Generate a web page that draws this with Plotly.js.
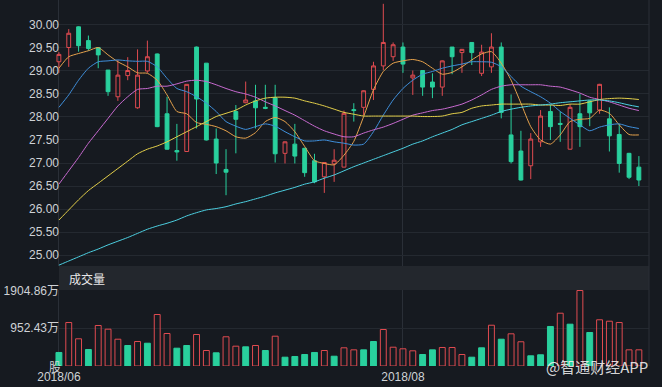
<!DOCTYPE html>
<html>
<head>
<meta charset="utf-8">
<script src="https://cdn.plot.ly/plotly-3.0.1.min.js"></script>
<style>html,body{margin:0;padding:0;background:#161a20;}#chart{width:662px;height:387px;}</style>
</head>
<body>
<div id="chart"></div>
<script>
// ---- Data ----
const open  = [29.20,29.51,29.96,29.66,29.51,29.02,28.44,28.90,28.20,29.00,
               29.37,28.07,27.27,27.25,29.52,29.17,27.52,26.86,28.12,28.31,
               28.35,28.21,28.42,27.21,27.41,27.32,27.05,26.70,26.98,26.91,
               28.16,28.21,28.60,29.11,29.31,29.52,28.85,29.01,28.76,28.65,
               29.52,29.40,29.62,28.95,29.09,29.52,27.61,27.26,26.94,27.46,
               28.12,27.86,27.30,28.07,28.35,28.15,27.96,27.62,27.21,26.91];
const high  = [29.41,29.91,29.97,29.77,29.52,29.02,29.24,29.30,29.47,29.66,
               29.38,28.44,27.85,28.71,29.53,29.17,27.75,27.30,28.26,28.77,
               28.70,28.70,28.70,27.47,27.85,27.33,27.20,27.01,27.30,28.14,
               28.30,28.58,29.20,30.46,29.62,29.62,29.01,29.01,28.95,29.23,
               29.52,29.48,29.62,29.57,29.82,29.62,28.49,27.70,27.65,28.15,
               28.26,28.12,28.28,28.50,28.36,28.72,28.21,27.85,27.22,27.15];
const low   = [28.96,29.09,29.42,29.44,29.06,28.46,28.35,28.80,28.18,28.96,
               27.78,27.29,27.05,27.25,27.75,27.49,26.76,26.30,27.21,28.30,
               27.75,28.17,27.01,26.99,26.99,26.70,26.56,26.35,26.59,26.91,
               27.90,28.04,28.37,29.02,29.22,28.96,28.48,28.46,28.41,28.46,
               28.93,28.96,29.13,28.89,28.96,27.97,26.99,26.62,26.65,27.35,
               27.50,27.46,27.29,27.35,27.80,28.07,27.25,26.79,26.65,26.50];
const close = [29.36,29.82,29.55,29.49,29.35,28.55,28.91,29.01,28.91,29.31,
               27.79,27.30,27.24,28.71,28.39,27.50,27.00,26.80,27.95,28.37,
               28.20,28.19,27.20,27.46,27.15,26.79,26.59,27.01,27.06,28.08,
               28.14,28.57,29.11,29.62,29.57,29.15,28.91,28.65,28.65,29.22,
               29.31,29.47,29.40,29.41,29.52,28.10,27.03,26.63,27.52,28.02,
               27.79,27.84,28.21,27.79,28.09,28.71,27.59,26.99,26.69,26.63];

const ma5  = [29.06,29.31,29.38,29.44,29.51,29.35,29.20,29.09,28.96,28.95,
              28.80,28.48,28.12,28.07,27.88,27.84,27.79,27.70,27.57,27.54,
              27.66,27.90,27.99,27.90,27.68,27.36,27.05,26.99,26.96,27.17,
              27.47,28.01,28.59,28.99,29.17,29.22,29.25,29.20,29.06,28.93,
              28.97,29.09,29.24,29.37,29.42,29.17,28.80,28.30,27.79,27.50,
              27.41,27.61,27.90,27.95,27.97,28.15,28.08,27.83,27.62,27.61];
const ma10 = [28.21,28.48,28.80,29.06,29.20,29.22,29.24,29.22,29.21,29.21,
              29.09,28.84,28.62,28.55,28.44,28.30,28.12,27.90,27.80,27.73,
              27.79,27.85,27.80,27.68,27.57,27.48,27.48,27.50,27.46,27.43,
              27.39,27.41,27.68,28.04,28.37,28.62,28.80,28.93,28.99,29.06,
              29.11,29.15,29.20,29.20,29.19,29.09,28.88,28.67,28.55,28.44,
              28.30,28.12,27.97,27.83,27.70,27.78,27.83,27.85,27.79,27.75];
const ma20 = [26.54,26.83,27.12,27.43,27.70,27.97,28.24,28.44,28.60,28.62,
              28.67,28.67,28.72,28.78,28.80,28.77,28.70,28.62,28.55,28.50,
              28.43,28.33,28.24,28.14,28.04,27.92,27.80,27.70,27.63,27.57,
              27.57,27.65,27.72,27.78,27.86,27.95,28.04,28.09,28.14,28.17,
              28.22,28.28,28.37,28.48,28.60,28.67,28.70,28.70,28.70,28.70,
              28.67,28.65,28.59,28.52,28.43,28.38,28.33,28.26,28.19,28.14];
const ma30 = [25.76,25.98,26.20,26.40,26.56,26.72,26.88,27.04,27.20,27.30,
              27.37,27.46,27.57,27.68,27.79,27.90,28.01,28.08,28.15,28.26,
              28.35,28.41,28.43,28.43,28.41,28.35,28.30,28.24,28.17,28.10,
              28.06,28.02,28.02,28.02,28.02,28.02,28.02,28.01,28.01,28.02,
              28.07,28.10,28.19,28.24,28.26,28.28,28.28,28.28,28.28,28.26,
              28.26,28.25,28.28,28.28,28.33,28.38,28.40,28.41,28.40,28.38];
const ma60 = [24.78,24.87,24.96,25.05,25.13,25.22,25.30,25.38,25.47,25.56,
              25.63,25.69,25.76,25.85,25.92,25.98,26.01,26.05,26.11,26.16,
              26.22,26.28,26.35,26.41,26.47,26.54,26.59,26.67,26.74,26.83,
              26.92,27.00,27.08,27.16,27.24,27.32,27.41,27.48,27.57,27.65,
              27.73,27.83,27.90,27.97,28.04,28.12,28.17,28.21,28.24,28.26,
              28.28,28.31,28.33,28.35,28.37,28.37,28.35,28.31,28.26,28.22];

// volume in 万股
const volume = [341,1097,686,416,1022,929,676,517,618,575,
                1299,820,449,517,795,391,333,737,500,484,
                517,391,752,222,240,290,341,391,247,459,
                408,408,618,921,474,434,383,290,408,467,
                467,290,222,459,1029,676,812,611,257,283,
                997,1332,1055,1904.86,845,1166,1130,1097,408,408];
// 1 = red hollow bar, 0 = green filled bar (as drawn)
const volumeUp = [0,1,1,0,1,1,1,0,1,0,
                  1,1,0,0,1,1,0,1,1,0,
                  1,0,1,0,0,0,0,1,0,1,
                  1,0,0,1,1,1,1,0,0,1,
                  1,1,0,0,1,0,1,1,0,0,
                  0,1,0,1,0,1,1,1,1,1];

const priceTicks = [25,25.5,26,26.5,27,27.5,28,28.5,29,29.5,30];
const volTicks = [952.43, 1904.86];
const volTickText = ['952.43万', '1904.86万'];
const dateTickIdx = [0, 35];
const dateTickText = ['2018/06', '2018/08'];

// ---- Styling ----
const BG = '#161a20';
const RED = '#e04b50';
const GREEN = '#29d09d';
const GRID = '#242930';
const TXT = '#cfd2d6';
const FONT = "Arial, 'Liberation Sans', 'Noto Sans CJK SC', sans-serif";
const idx = open.map((_, i) => i);

const traces = [
  {type:'candlestick', x: idx, open, high, low, close, xaxis:'x', yaxis:'y',
   increasing:{line:{color:RED, width:1}, fillcolor:'rgba(0,0,0,0)'},
   decreasing:{line:{color:GREEN, width:1}, fillcolor:GREEN},
   whiskerwidth:0, hoverinfo:'skip'},
];
const maDefs = [[ma5,'#e6a24c'],[ma10,'#3f8fdb'],[ma20,'#c86ad0'],[ma30,'#e3cf4a'],[ma60,'#4ccfe0']];
maDefs.forEach(([arr, col]) => traces.push({
  type:'scatter', mode:'lines', x: idx, y: arr, xaxis:'x', yaxis:'y',
  line:{color:col, width:1, shape:'spline', smoothing:0.6}, hoverinfo:'skip'
}));
traces.push({
  type:'bar', x: idx, y: volume, xaxis:'x', yaxis:'y2',
  marker:{color: volumeUp.map(u => u ? 'rgba(0,0,0,0)' : GREEN),
          line:{color: volumeUp.map(u => u ? RED : GREEN), width:1}},
  hoverinfo:'skip'
});

const plotW = 662 - 54 - 13, plotH = 387 - 0 - 21;
const leftPos = 5 / plotW;
const layout = {
  width:662, height:387,
  margin:{l:54, r:13, t:0, b:21, pad:0},
  paper_bgcolor:BG, plot_bgcolor:BG,
  showlegend:false,
  bargap:0.4, boxgap:0.44,
  font:{family:FONT, size:12, color:TXT},
  xaxis:{range:[-0.5, 60.03], anchor:'y2', tickmode:'array', tickvals:dateTickIdx, ticktext:dateTickText,
         showgrid:true, gridcolor:'#2a2f37', gridwidth:1, zeroline:false, showline:false, ticks:'',
         ticklabelstandoff:2,
         tickfont:{family:FONT, size:12, color:TXT}, rangeslider:{visible:false}, fixedrange:true},
  yaxis:{domain:[(plotH-266)/plotH, 1], range:[24.761, 30.543], anchor:'free', position:leftPos,
         tickmode:'array', tickvals:priceTicks, tickformat:'.2f', showgrid:true, gridcolor:GRID,
         zeroline:false, showline:false, ticks:'', tickfont:{family:FONT, size:12, color:TXT}, fixedrange:true},
  yaxis2:{domain:[0, 76/plotH], range:[0, 1917.5], anchor:'free', position:leftPos,
          tickmode:'array', tickvals:volTicks, ticktext:volTickText, showgrid:true, gridcolor:GRID,
          zeroline:false, showline:false, ticks:'', tickfont:{family:FONT, size:12, color:TXT}, fixedrange:true},
  shapes:[
    {type:'rect', xref:'paper', yref:'paper', x0:leftPos, x1:1, y0:(plotH-290)/plotH, y1:(plotH-266)/plotH,
     fillcolor:'#23272d', line:{width:0}},
    {type:'line', xref:'paper', yref:'paper', x0:1, x1:1, y0:0, y1:1, line:{color:'#2a2f37', width:1}}
  ],
  annotations:[
    {text:'成交量', xref:'paper', yref:'paper', x:(67-54)/plotW, y:(plotH-278)/plotH, xanchor:'left', yanchor:'middle',
     showarrow:false, font:{family:"'Noto Sans CJK SC', sans-serif", size:12, color:'#e8e8e8'}},
    {text:'股', xref:'paper', yref:'paper', x:(55-54)/plotW, y:(plotH-366)/plotH, xanchor:'center', yanchor:'middle',
     showarrow:false, font:{family:"'Noto Sans CJK SC', sans-serif", size:12, color:TXT}},
    {text:'@智通财经APP', xref:'paper', yref:'paper', x:(597-54)/plotW, y:(plotH-367)/plotH, xanchor:'center', yanchor:'middle',
     showarrow:false, font:{family:"'Noto Sans CJK SC', sans-serif", size:15, color:'rgba(240,240,240,0.9)'}}
  ]
};
Plotly.newPlot('chart', traces, layout, {staticPlot:true, displayModeBar:false});
</script>
</body>
</html>
